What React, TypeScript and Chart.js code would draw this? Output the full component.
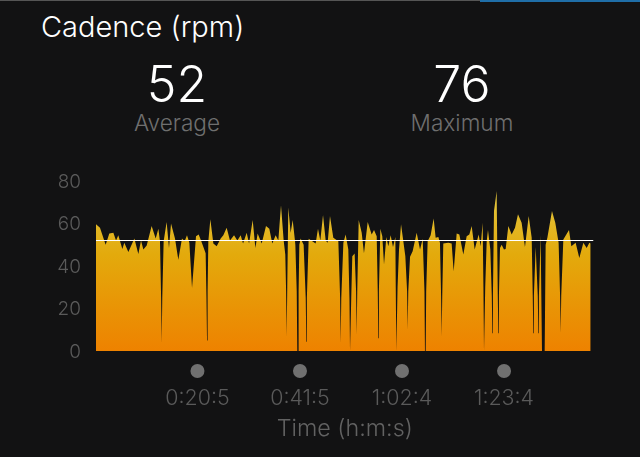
import React, { useEffect, useRef } from 'react';
import { Chart, registerables } from 'chart.js';

Chart.register(...registerables);

const FONT = 'Inter, "Liberation Sans", Arial, sans-serif';

const chartTitle = 'Cadence (rpm)';
const statValues = ['52', '76'];
const statLabels = ['Average', 'Maximum'];
const xTitle = 'Time (h:m:s)';

const averageCadence = 52;
const averageTimes = [0, 6134];

const yTicks = [0, 20, 40, 60, 80];
const xTickTimes = [1251, 2515, 3773, 5031];
const xTickLabels = ['0:20:5', '0:41:5', '1:02:4', '1:23:4'];

// elapsed seconds
const cadenceTimes = [
    0, 49, 119, 164, 214, 247, 275, 325, 349, 399, 473, 522, 555, 584, 625, 686, 736, 769, 789, 803, 810, 817,
    834, 871, 900, 925, 974, 1015, 1060, 1093, 1122, 1151, 1184, 1233, 1266, 1295, 1352, 1362, 1369, 1376, 1385, 1410, 1447, 1488,
    1537, 1570, 1611, 1652, 1702, 1743, 1784, 1813, 1858, 1887, 1932, 1965, 1993, 2043, 2096, 2137, 2174, 2215, 2248, 2281,
    2314, 2334, 2344, 2351, 2358, 2371, 2400, 2425, 2454, 2458, 2475, 2482, 2491, 2498, 2507, 2523, 2560, 2586, 2593, 2600, 2622, 2667, 2708, 2737, 2766, 2799,
    2832, 2856, 2885, 2926, 2988, 3010, 3017, 3024, 3050, 3078, 3111, 3125, 3132, 3140, 3147, 3160, 3189, 3207, 3214, 3221, 3239, 3276, 3304, 3350, 3399, 3428,
    3461, 3474, 3481, 3488, 3506, 3530, 3551, 3580, 3604, 3633, 3662, 3691, 3696, 3703, 3711, 3718, 3736, 3761, 3793, 3814, 3836, 3843, 3850, 3872, 3904, 3954,
    3995, 4028, 4050, 4056, 4065, 4071, 4089, 4126, 4163, 4188, 4221, 4241, 4255, 4262, 4269, 4282, 4344, 4385, 4410, 4447, 4480, 4529, 4570, 4603,
    4632, 4669, 4718, 4743, 4767, 4777, 4784, 4792, 4799, 4817, 4833, 4862, 4880, 4887, 4894, 4907, 4940, 4954, 4961, 4968, 4981, 5002, 5030, 5051, 5084, 5125,
    5166, 5203, 5248, 5289, 5335, 5372, 5385, 5392, 5399, 5421, 5447, 5454, 5461, 5482, 5499, 5532, 5544, 5565, 5622, 5663, 5704, 5722, 5729, 5736, 5762, 5832,
    5861, 5914, 5959, 6009, 6050, 6083, 6099
];

const cadenceValues = [
    59.6, 58, 50, 55.3, 55.6, 52, 54.5, 48, 51, 46.6, 53, 45.7, 52, 47.8, 49.6, 58.8, 53, 57.5, 51.7, 25, 3.6, 25,
    51.7, 60.7, 48.5, 60, 53, 43, 53, 51.7, 54.5, 51, 29.6, 54, 54.8, 52, 46, 25, 5, 28, 51.7, 62, 50.6, 49.3,
    53, 54.5, 58, 52, 54.5, 52, 54.5, 50.6, 55.6, 50.6, 61.6, 48.5, 55.3, 50.6, 58.8, 57.5, 50.6, 54.5, 52, 68.6,
    52, 45.4, 28, 6.8, 30, 67.5, 55.6, 61.6, 51.7, 50, 28, 0, 0, 28, 50, 53, 50, 25, 4.4, 25, 52.8, 51.7, 50.6, 57.5, 52, 64,
    52, 51, 63.5, 53.3, 51.7, 25, 3.6, 25, 51, 54.8, 47.8, 25, 0, 0, 25, 44.6, 45.9, 28, 7.6, 28, 61.6, 55.6, 46, 60.7, 54.8, 57,
    54, 28, 6, 28, 57.5, 54, 40.7, 53.6, 49.3, 54.5, 49, 53.6, 30, 0, 0, 30, 47.8, 59.6, 50.6, 44.6, 28, 10, 28, 44.3, 47, 55.6,
    47.8, 52.8, 28, 0, 0, 28, 51.7, 54.5, 62.4, 53.3, 53.6, 51, 26, 6.8, 26, 50.6, 51, 50.6, 37.5, 55.3, 54.8, 45.4, 54, 54.8,
    58.8, 47.8, 54.8, 49.3, 60.4, 30, 0, 0, 30, 51.7, 56.9, 47.8, 26, 8.4, 26, 65.9, 75.3, 26, 8.4, 26, 48.5, 50, 47.8, 48, 58.8, 54.8,
    58, 64.3, 60.4, 49, 63.5, 53.3, 26, 8.4, 26, 49, 26, 8.4, 26, 54.5, 0, 0, 50, 53.3, 65.9, 60.4, 51, 26, 8.4, 26, 52.5, 56.9,
    49.3, 51, 43.8, 51, 48.5, 51, 50.6
];

// grey dots above the time labels
const tickDots = {
    id: 'tickDots',
    afterDraw(chart: any) {
        const { ctx, scales } = chart;
        ctx.save();
        ctx.fillStyle = '#707070';
        xTickTimes.forEach((t) => {
            ctx.beginPath();
            ctx.arc(scales.x.getPixelForValue(t), 371, 7, 0, Math.PI * 2);
            ctx.fill();
        });
        ctx.restore();
    }
};

const statStyle = (center: number, top: number, size: number, color: string, weight = 300): React.CSSProperties => ({
    position: 'absolute',
    left: center - 120,
    width: 240,
    top,
    textAlign: 'center',
    fontSize: size,
    lineHeight: 1,
    color,
    fontWeight: weight,
    fontFamily: FONT
});

const statCenters = [177, 462];

export default function App() {
    const canvasRef = useRef<HTMLCanvasElement>(null);

    useEffect(() => {
        document.body.style.margin = '0';
        document.body.style.background = '#121213';

        const chart = new Chart(canvasRef.current as HTMLCanvasElement, {
            type: 'line',
            data: {
                datasets: [
                    {
                        label: 'Average',
                        data: averageTimes.map((t) => ({ x: t, y: averageCadence })),
                        borderColor: '#ffffff',
                        borderWidth: 1.2,
                        pointRadius: 0,
                        fill: false
                    },
                    {
                        label: 'Cadence',
                        data: cadenceTimes.map((t, i) => ({ x: t, y: cadenceValues[i] })),
                        borderWidth: 0,
                        pointRadius: 0,
                        tension: 0,
                        fill: 'origin',
                        backgroundColor: (c: any) => {
                            const { ctx, chartArea, scales } = c.chart;
                            if (!chartArea) return '#e5aa0c';
                            const g = ctx.createLinearGradient(0, scales.y.getPixelForValue(70), 0, scales.y.getPixelForValue(0));
                            g.addColorStop(0, '#e2c238');
                            g.addColorStop(0.35, '#e3aa0c');
                            g.addColorStop(1, '#ee8200');
                            return g;
                        }
                    }
                ]
            },
            options: {
                animation: false,
                responsive: false,
                layout: { padding: { top: 181, right: 46.5, left: 0, bottom: 0 } },
                plugins: { legend: { display: false }, tooltip: { enabled: false } },
                scales: {
                    x: {
                        type: 'linear',
                        min: 0,
                        max: averageTimes[1],
                        grid: { display: false, drawTicks: false },
                        border: { display: false },
                        afterBuildTicks: (scale: any) => {
                            scale.ticks = xTickTimes.map((value) => ({ value }));
                        },
                        afterFit: (scale: any) => {
                            scale.height = 106;
                        },
                        ticks: {
                            autoSkip: false,
                            maxRotation: 0,
                            padding: 35,
                            color: '#5a5a5a',
                            font: { family: FONT, size: 21.4, weight: '300' },
                            callback: (_v: any, i: number) => xTickLabels[i]
                        },
                        title: {
                            display: true,
                            text: xTitle,
                            color: '#626262',
                            padding: { top: 0, bottom: 14 },
                            font: { family: FONT, size: 23.3, weight: '300' }
                        }
                    },
                    y: {
                        min: 0,
                        max: 80,
                        grid: { display: false, drawTicks: false },
                        border: { display: false },
                        afterBuildTicks: (scale: any) => {
                            scale.ticks = yTicks.map((value) => ({ value }));
                        },
                        afterFit: (scale: any) => {
                            scale.width = 96;
                        },
                        ticks: {
                            padding: 15,
                            labelOffset: 1,
                            color: '#5a5a5a',
                            font: { family: FONT, size: 19, weight: '300' }
                        }
                    }
                }
            },
            plugins: [tickDots]
        } as any);

        return () => {
            chart.destroy();
        };
    }, []);

    return (
        <div style={{ position: 'relative', width: 640, height: 457, background: '#121213', overflow: 'hidden' }}>
            <div style={{ position: 'absolute', left: 0, top: 0, width: 480, height: 1, background: '#555555' }} />
            <div style={{ position: 'absolute', left: 480, top: 0, width: 160, height: 2, background: '#1f6ea8' }} />
            <div style={{ position: 'absolute', left: 41, top: 12, fontSize: 29, lineHeight: 1, color: '#ffffff', fontWeight: 300, fontFamily: FONT }}>
                {chartTitle}
            </div>
            {statValues.map((v, i) => (
                <div key={v}>
                    <div style={statStyle(statCenters[i], 59, 50, '#ffffff')}>{v}</div>
                    <div style={statStyle(statCenters[i], 112, 22.6, '#6f6f6f')}>{statLabels[i]}</div>
                </div>
            ))}
            <canvas ref={canvasRef} width={640} height={457} style={{ position: 'absolute', left: 0, top: 0 }} />
        </div>
    );
}
